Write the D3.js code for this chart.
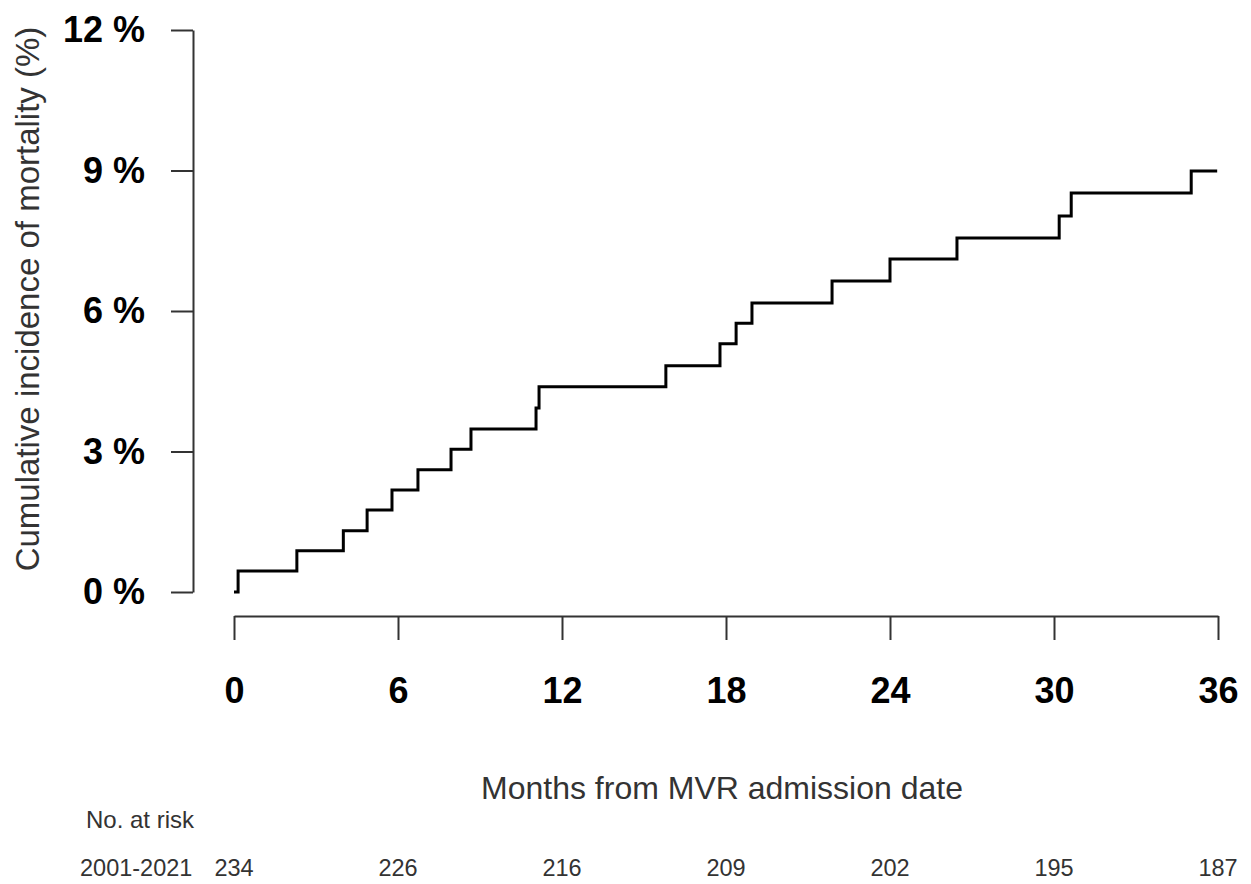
<!DOCTYPE html>
<html>
<head>
<meta charset="utf-8">
<script src="https://cdn.jsdelivr.net/npm/d3@7"></script>
<style>
  body { margin: 0; background: #fff; }
  svg text { font-family: "Liberation Sans", Arial, sans-serif; }
</style>
</head>
<body>
<div id="chart"></div>
<script>
var svgWidth = 1251;
var svgHeight = 884;

// step times (months) and cumulative incidence (%) after each step
var months = [0, 0.15, 2.3, 4.0, 4.87, 5.78, 6.73, 7.94, 8.67, 11.05, 11.16, 15.8, 17.78, 18.37, 18.95, 21.88, 24.0, 26.45, 30.19, 30.63, 35.02, 35.97];
var incidence = [0, 0.45, 0.88, 1.31, 1.75, 2.18, 2.61, 3.05, 3.48, 3.93, 4.38, 4.83, 5.30, 5.74, 6.17, 6.64, 7.11, 7.56, 8.03, 8.52, 8.99, 8.99];

var xTicks = [0, 6, 12, 18, 24, 30, 36];
var yTicks = [0, 3, 6, 9, 12];
var atRisk = [234, 226, 216, 209, 202, 195, 187];

var svg = d3.select("#chart")
  .append("svg")
  .attr("width", svgWidth)
  .attr("height", svgHeight);

var x = d3.scaleLinear().domain([0, 36]).range([234, 1218]);
var y = d3.scaleLinear().domain([0, 12]).range([592, 30]);

// y axis
var yAxis = svg.append("g")
  .attr("transform", "translate(193,0)")
  .call(d3.axisLeft(y).tickValues(yTicks).tickSize(22).tickSizeOuter(0).tickPadding(26)
    .tickFormat(d => d + " %"));
yAxis.select(".domain").attr("stroke", "#333").attr("stroke-width", 2);
yAxis.selectAll(".tick line").attr("stroke", "#333").attr("stroke-width", 2);
yAxis.selectAll(".tick text")
  .attr("font-size", 36).attr("font-weight", "bold").attr("fill", "#000");

// x axis
var xAxis = svg.append("g")
  .attr("transform", "translate(0,616)")
  .call(d3.axisBottom(x).tickValues(xTicks).tickSize(24).tickSizeOuter(0).tickPadding(37));
xAxis.select(".domain").attr("stroke", "#333").attr("stroke-width", 2);
xAxis.selectAll(".tick line").attr("stroke", "#333").attr("stroke-width", 2);
xAxis.selectAll(".tick text")
  .attr("font-size", 36).attr("font-weight", "bold").attr("fill", "#000");

// step curve
var line = d3.line()
  .x((d, i) => x(months[i]))
  .y((d, i) => y(incidence[i]))
  .curve(d3.curveStepAfter);

svg.append("path")
  .datum(incidence)
  .attr("d", line)
  .attr("fill", "none")
  .attr("stroke", "#000")
  .attr("stroke-width", 3);

// axis titles
svg.append("text")
  .attr("transform", "translate(39,299) rotate(-90)")
  .attr("text-anchor", "middle")
  .attr("font-size", 33)
  .attr("fill", "#333")
  .text("Cumulative incidence of mortality (%)");

svg.append("text")
  .attr("x", 722)
  .attr("y", 799)
  .attr("text-anchor", "middle")
  .attr("font-size", 32)
  .attr("fill", "#333")
  .text("Months from MVR admission date");

// number at risk
svg.append("text")
  .attr("x", 86)
  .attr("y", 828)
  .attr("font-size", 24)
  .attr("fill", "#333")
  .text("No. at risk");

svg.append("text")
  .attr("x", 80)
  .attr("y", 876)
  .attr("font-size", 23.5)
  .attr("fill", "#333")
  .text("2001-2021");

svg.append("g")
  .selectAll("text")
  .data(atRisk)
  .enter()
  .append("text")
  .attr("x", (d, i) => x(xTicks[i]))
  .attr("y", 876)
  .attr("text-anchor", "middle")
  .attr("font-size", 23.5)
  .attr("fill", "#333")
  .text(d => d);
</script>
</body>
</html>
